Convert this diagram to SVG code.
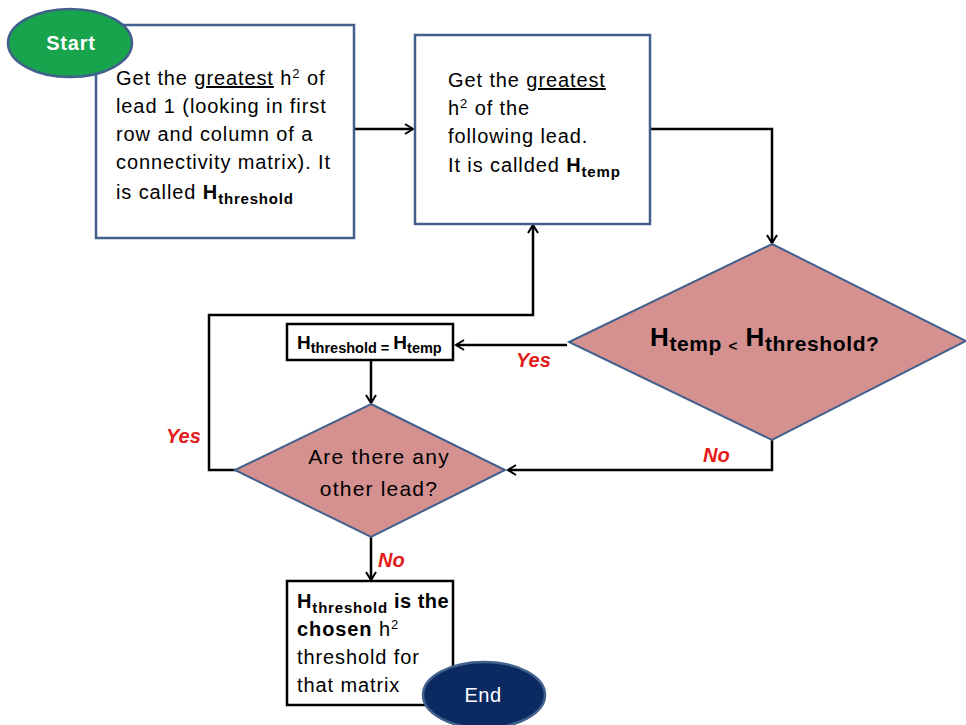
<svg xmlns="http://www.w3.org/2000/svg" width="966" height="725" viewBox="0 0 966 725">
<defs>
<marker id="arr" markerWidth="12" markerHeight="12" refX="10" refY="6" orient="auto" markerUnits="userSpaceOnUse">
<polyline points="2,1 10,6 2,11" fill="none" stroke="#000" stroke-width="2"/>
</marker>
<style>
text{font-family:"Liberation Sans",Arial,sans-serif;fill:#000}
.t{font-size:20px;letter-spacing:0.9px}
.b{font-weight:bold}
.sub{font-size:15px;font-weight:bold;letter-spacing:0.8px}
.sup{font-size:13px}
.lbl{font-size:20px;font-weight:bold;font-style:italic;fill:#e31b1b}
.box{fill:#fff;stroke:#41608c;stroke-width:2.5}
.bbox{fill:#fff;stroke:#000;stroke-width:2.5}
.dia{fill:#d49190;stroke:#41608c;stroke-width:2}
.con{fill:none;stroke:#000;stroke-width:2.5}
</style>
</defs>
<rect width="966" height="725" fill="#fff"/>

<g id="connectors">
<line class="con" x1="354" y1="129" x2="413" y2="129" marker-end="url(#arr)"/>
<polyline class="con" points="650,129 772,129 772,243" marker-end="url(#arr)"/>
<line class="con" x1="567" y1="345" x2="456" y2="345" marker-end="url(#arr)"/>
<line class="con" x1="371" y1="360" x2="371" y2="403" marker-end="url(#arr)"/>
<polyline class="con" points="772,440 772,470 508,470" marker-end="url(#arr)"/>
<polyline class="con" points="236,470 209,470 209,315 533,315 533,225" marker-end="url(#arr)"/>
<line class="con" x1="371" y1="537" x2="371" y2="580" marker-end="url(#arr)"/>
<text class="lbl" x="516" y="367">Yes</text>
<text class="lbl" x="703" y="462">No</text>
<text class="lbl" x="166" y="443">Yes</text>
<text class="lbl" x="378" y="567">No</text>
</g>

<g id="box1">
<rect class="box" x="96" y="25" width="258" height="213"/>
<text class="t" x="116" y="85">Get the <tspan text-decoration="underline">greatest</tspan> h<tspan class="sup" dy="-7">2</tspan><tspan dy="7"> of</tspan></text>
<text class="t" x="116" y="113">lead 1 (looking in first</text>
<text class="t" x="116" y="141">row and column of a</text>
<text class="t" x="116" y="169">connectivity matrix). It</text>
<text class="t" x="116" y="199">is called <tspan class="b">H</tspan><tspan class="sub" dy="5">threshold</tspan></text>
</g>

<g id="start">
<ellipse cx="70" cy="43" rx="62" ry="34" fill="#17a44c" stroke="#41608c" stroke-width="2.5"/>
<text x="71" y="50" text-anchor="middle" font-size="20" font-weight="bold" letter-spacing="0.8" style="fill:#fff">Start</text>
</g>

<g id="box2">
<rect class="box" x="415" y="35" width="235" height="189"/>
<text class="t" x="448" y="87">Get the <tspan text-decoration="underline">greatest</tspan></text>
<text class="t" x="448" y="115">h<tspan class="sup" dy="-7">2</tspan><tspan dy="7"> of the</tspan></text>
<text class="t" x="448" y="143">following lead.</text>
<text class="t" x="448" y="172">It is callded <tspan class="b">H</tspan><tspan class="sub" dy="5">temp</tspan></text>
</g>

<g id="decision1">
<polygon class="dia" points="772,244 966,341 772,440 569,342"/>
<text x="650" y="346" font-weight="bold" font-size="26" letter-spacing="0.6">H<tspan font-size="21" dy="5">temp </tspan><tspan font-size="15">&lt;</tspan><tspan font-size="26" dy="-5"> H</tspan><tspan font-size="21" dy="5">threshold?</tspan></text>
</g>

<g id="assign">
<rect class="bbox" x="287" y="324" width="166" height="36"/>
<text x="297" y="349" font-weight="bold" font-size="19">H<tspan font-size="14.5" dy="4">threshold = </tspan><tspan font-size="19" dy="-4">H</tspan><tspan font-size="14.5" dy="4">temp</tspan></text>
</g>

<g id="decision2">
<polygon class="dia" points="371,404 505,470 371,537 235,470"/>
<text x="379" y="464" text-anchor="middle" font-size="21" letter-spacing="1.2">Are there any</text>
<text x="379" y="496" text-anchor="middle" font-size="21" letter-spacing="1.2">other lead?</text>
</g>

<g id="box3">
<rect class="bbox" x="287" y="581" width="166" height="124"/>
<text class="t" x="297" y="608"><tspan class="b">H</tspan><tspan class="sub" dy="5" letter-spacing="0.4">threshold</tspan><tspan class="b" dy="-5" letter-spacing="0.5"> is the</tspan></text>
<text class="t" x="297" y="636"><tspan class="b">chosen</tspan> h<tspan class="sup" dy="-7">2</tspan></text>
<text class="t" x="297" y="664">threshold for</text>
<text class="t" x="297" y="692">that matrix</text>
</g>

<g id="end">
<ellipse cx="484" cy="695" rx="61" ry="33" fill="#0b2a62" stroke="#41608c" stroke-width="2.5"/>
<text x="483" y="702" text-anchor="middle" font-size="20" letter-spacing="0.5" style="fill:#fff">End</text>
</g>
</svg>
